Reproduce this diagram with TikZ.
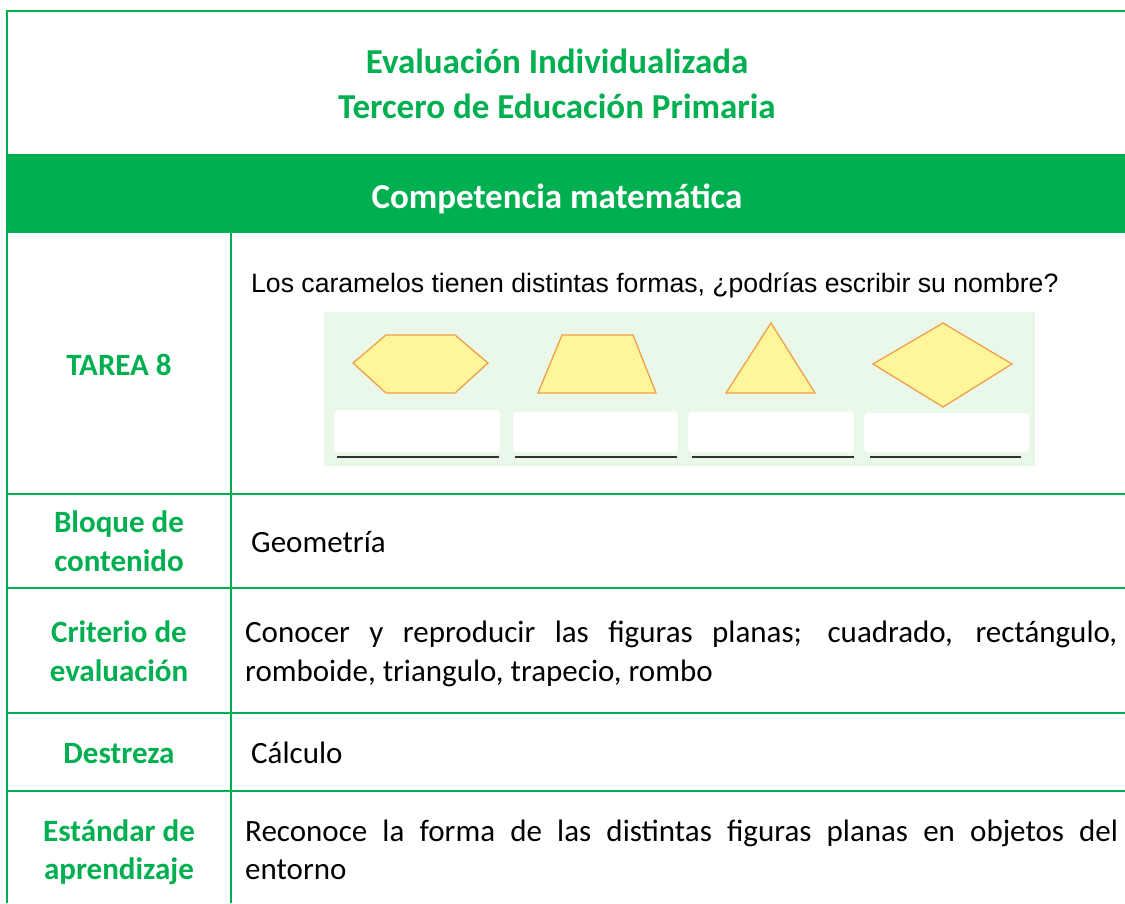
\documentclass[tikz,border=0pt]{standalone}
\usepackage{fontspec}
\setmainfont{Carlito}
\newfontfamily\arialf{Liberation Sans}
\definecolor{tgreen}{HTML}{00AF50}
\definecolor{panelbg}{HTML}{EAF8EA}
\definecolor{shapefill}{HTML}{FFF59A}
\definecolor{shapeedge}{HTML}{F0A048}
\begin{document}
\begin{tikzpicture}[x=1pt,y=-1pt,
  gridline/.style={draw=tgreen,line width=1.4pt},
  titletext/.style={inner sep=0pt,anchor=base,text=tgreen,font=\bfseries\fontsize{35}{45}\selectfont},
  bandtext/.style={inner sep=0pt,anchor=base,text=white,font=\bfseries\fontsize{35}{45}\selectfont},
  labeltext/.style={inner sep=0pt,anchor=base,text=tgreen,font=\bfseries\fontsize{31}{38}\selectfont},
  bodytext/.style={inner sep=0pt,anchor=base west,text=black,font=\fontsize{31}{38}\selectfont},
  qtext/.style={inner sep=0pt,anchor=base west,text=black,font=\arialf\fontsize{26.6}{32}\selectfont},
  candy/.style={fill=shapefill,draw=shapeedge,line width=1.3pt,line join=miter},
  answerbox/.style={fill=white,draw=none,rounded corners=4pt},
  answerline/.style={draw=black!80,line width=1.3pt}
]
\useasboundingbox (0,0) rectangle (1125,903);
% green band
\fill[tgreen] (7,154) rectangle (1125,233);
% grid lines
\draw[gridline] (7,903) -- (7,11) -- (1125,11);
\draw[gridline] (231,233) -- (231,903);
\foreach \yy in {494,588,713,791} \draw[gridline] (7,\yy) -- (1125,\yy);
% title
\node[titletext] (t1) at (557,73) {Evaluación Individualizada};
\node[titletext] (t2) at (557,118) {Tercero de Educación Primaria};
\node[bandtext] (band) at (557,208) {Competencia matemática};
% row 1
\node[labeltext] (tarea) at (119,375) {TAREA 8};
\node[qtext] (q) at (251,292) {Los caramelos tienen distintas formas, ¿podrías escribir su nombre?};
\fill[panelbg] (324,312) rectangle (1035,466);
\draw[candy] (353,363) -- (386,335) -- (455,335) -- (488,363) -- (455,393) -- (386,393) -- cycle;
\draw[candy] (562,335) -- (633,335) -- (656,393) -- (538,393) -- cycle;
\draw[candy] (771,323) -- (815,393) -- (726,393) -- cycle;
\draw[candy] (873,364) -- (943,323) -- (1012,364) -- (943,407) -- cycle;
\fill[answerbox] (334,410) rectangle (500,452);
\fill[answerbox] (513,412) rectangle (678,452);
\fill[answerbox] (688,412) rectangle (854,452);
\fill[answerbox] (864,413) rectangle (1029,452);
\draw[answerline] (337,457) -- (499,457);
\draw[answerline] (515,457) -- (677,457);
\draw[answerline] (692,457) -- (854,457);
\draw[answerline] (870,457) -- (1021,457);
% row 2
\node[labeltext] (bl1) at (119,532) {Bloque de};
\node[labeltext] (bl2) at (119,571) {contenido};
\node[bodytext] (geo) at (251,552) {Geometría};
% row 3
\node[labeltext] (cr1) at (119,642) {Criterio de};
\node[labeltext] (cr2) at (119,681) {evaluación};
\node[bodytext] (crb1) at (245,642) {\makebox[872pt][s]{Conocer y reproducir las figuras planas; cuadrado, rectángulo,}};
\node[bodytext] (crb2) at (245,681) {romboide, triangulo, trapecio, rombo};
% row 4
\node[labeltext] (de) at (119,763) {Destreza};
\node[bodytext] (calc) at (251,763) {Cálculo};
% row 5
\node[labeltext] (es1) at (119,841) {Estándar de};
\node[labeltext] (es2) at (119,879) {aprendizaje};
\node[bodytext] (esb1) at (245,841) {\makebox[873pt][s]{Reconoce la forma de las distintas figuras planas en objetos del}};
\node[bodytext] (esb2) at (245,879) {entorno};
\end{tikzpicture}
\end{document}
